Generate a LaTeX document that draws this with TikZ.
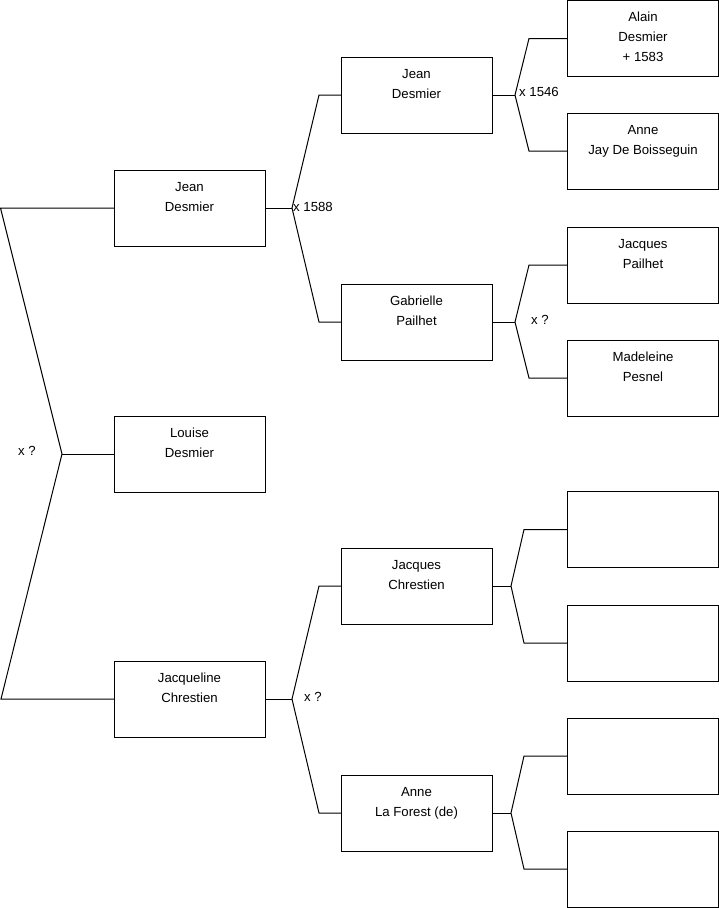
\documentclass[tikz,border=0pt]{standalone}
\usepackage{fontspec}
\setmainfont{Liberation Sans}
\usetikzlibrary{positioning}
\begin{document}
\begin{tikzpicture}[x=1pt,y=-1pt,
 person/.style={draw=black, line width=1pt, minimum width=151pt, minimum height=76pt, inner sep=0pt, outer sep=0pt},
 pname/.style={align=center, font=\fontsize{13.2}{20}\selectfont, inner sep=0pt, anchor=north, execute at begin node={\rule{0pt}{11pt}}},
 link/.style={line width=1pt, line join=miter},
 marr/.style={font=\fontsize{13.2}{16}\selectfont, inner sep=0pt, anchor=west}]
\useasboundingbox (0,0) rectangle (719,908);
% column 1
\node[person] (a1) at (189.5,208) {};
\node[person] (a2) at (189.5,454) {};
\node[person] (a3) at (189.5,699) {};
% column 2
\node[person] (b1) at (416.5,95) {};
\node[person] (b2) at (416.5,322) {};
\node[person] (b3) at (416.5,586) {};
\node[person] (b4) at (416.5,813) {};
% column 3
\node[person] (c1) at (643,38.5) {};
\node[person] (c2) at (643,151) {};
\node[person] (c3) at (643,265) {};
\node[person] (c4) at (643,378) {};
\node[person] (c5) at (643,529.5) {};
\node[person] (c6) at (643,643) {};
\node[person] (c7) at (643,756) {};
\node[person] (c8) at (643,869) {};
% names
\node[pname, below=12pt of a1.north] (ta1) {Jean\\Desmier};
\node[pname, below=12pt of a2.north] (ta2) {Louise\\Desmier};
\node[pname, below=12pt of a3.north] (ta3) {Jacqueline\\Chrestien};
\node[pname, below=12pt of b1.north] (tb1) {Jean\\Desmier};
\node[pname, below=12pt of b2.north] (tb2) {Gabrielle\\Pailhet};
\node[pname, below=12pt of b3.north] (tb3) {Jacques\\Chrestien};
\node[pname, below=12pt of b4.north] (tb4) {Anne\\La Forest (de)};
\node[pname, below=11.5pt of c1.north] (tc1) {Alain\\Desmier\\+ 1583};
\node[pname, below=12pt of c2.north] (tc2) {Anne\\Jay De Boisseguin};
\node[pname, below=12pt of c3.north] (tc3) {Jacques\\Pailhet};
\node[pname, below=12pt of c4.north] (tc4) {Madeleine\\Pesnel};
% left fork
\coordinate (l1) at (0.5,208);
\coordinate (l2) at (62,454);
\coordinate (l3) at (1,699);
\draw[link] (a1.west) -- (l1) -- (l2) -- (l3) -- (a3.west);
\draw[link] (l2) -- (a2.west);
\node[marr] (m0) at (18,451) {x ?};
% fork a1
\coordinate (f1) at (292,208);
\coordinate (f1u) at (319,95);
\coordinate (f1d) at (319,322);
\draw[link] (a1.east) -- (f1);
\draw[link] (b1.west) -- (f1u) -- (f1) -- (f1d) -- (b2.west);
\node[marr] (m1) at (293,207) {x 1588};
% fork a3
\coordinate (f2) at (292,699);
\coordinate (f2u) at (319,586);
\coordinate (f2d) at (319,813);
\draw[link] (a3.east) -- (f2);
\draw[link] (b3.west) -- (f2u) -- (f2) -- (f2d) -- (b4.west);
\node[marr] (m2) at (304,697) {x ?};
% fork b1
\coordinate (f3) at (515,95);
\coordinate (f3u) at (529,38.5);
\coordinate (f3d) at (529,151);
\draw[link] (b1.east) -- (f3);
\draw[link] (c1.west) -- (f3u) -- (f3) -- (f3d) -- (c2.west);
\node[marr] (m3) at (519,92) {x 1546};
% fork b2
\coordinate (f4) at (515,322);
\coordinate (f4u) at (529,265);
\coordinate (f4d) at (529,378);
\draw[link] (b2.east) -- (f4);
\draw[link] (c3.west) -- (f4u) -- (f4) -- (f4d) -- (c4.west);
\node[marr] (m4) at (531,320) {x ?};
% fork b3
\coordinate (f5) at (511,586);
\coordinate (f5u) at (524,529.5);
\coordinate (f5d) at (524,643);
\draw[link] (b3.east) -- (f5);
\draw[link] (c5.west) -- (f5u) -- (f5) -- (f5d) -- (c6.west);
% fork b4
\coordinate (f6) at (511,813);
\coordinate (f6u) at (524,756);
\coordinate (f6d) at (524,869);
\draw[link] (b4.east) -- (f6);
\draw[link] (c7.west) -- (f6u) -- (f6) -- (f6d) -- (c8.west);
\end{tikzpicture}
\end{document}
